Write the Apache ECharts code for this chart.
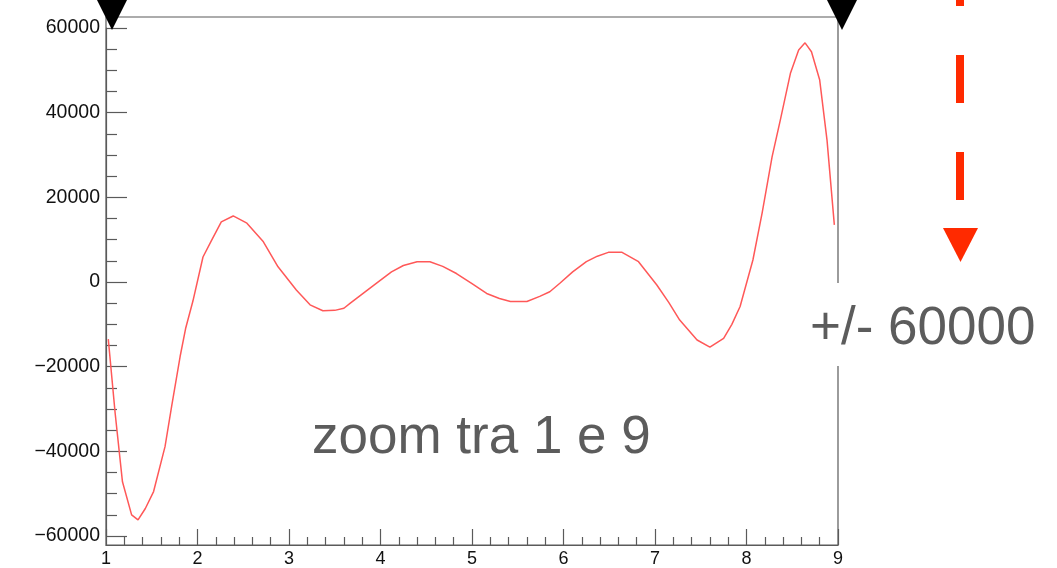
<!DOCTYPE html>
<html>
<head>
<meta charset="utf-8">
<script src="https://cdn.jsdelivr.net/npm/echarts@6/dist/echarts.min.js"></script>
<style>
	html, body { margin: 0; padding: 0; background: #fff; }
	#chart { width: 1057px; height: 568px; }
</style>
</head>
<body>
<div id="chart"></div>
<script>
// curve samples
const xVals = [1.025, 1.10, 1.18, 1.28, 1.35, 1.43, 1.52, 1.645, 1.72, 1.81, 1.87, 1.95, 2.06, 2.155, 2.26, 2.39, 2.54, 2.72, 2.88, 3.08, 3.23, 3.37, 3.50, 3.60, 3.67, 3.81, 3.95, 4.12, 4.25, 4.40, 4.54, 4.68, 4.83, 5.00, 5.16, 5.30, 5.42, 5.60, 5.74, 5.85, 5.96, 6.10, 6.25, 6.37, 6.49, 6.64, 6.82, 7.02, 7.15, 7.27, 7.46, 7.60, 7.75, 7.84, 7.93, 8.07, 8.17, 8.28, 8.37, 8.48, 8.57, 8.64, 8.71, 8.80, 8.88, 8.96];
const yVals = [-13500, -31000, -47200, -55000, -56200, -53500, -49500, -38900, -29000, -17600, -11000, -4500, 5900, 9900, 14200, 15600, 13900, 9500, 3600, -1900, -5400, -6800, -6700, -6200, -5000, -2700, -400, 2400, 3900, 4800, 4800, 3700, 2000, -400, -2700, -3900, -4600, -4600, -3400, -2300, -300, 2400, 4800, 6100, 7000, 7000, 4800, -700, -4800, -9000, -13700, -15400, -13300, -10000, -5800, 5200, 16200, 29600, 38300, 49300, 54800, 56500, 54400, 47700, 33500, 13500];

// axis ranges and tick labels
const xRange = [1, 9];
const yRange = [-60000, 60000];
const yStep = 20000;
const zoomLimits = [1, 9];

// annotation texts
const zoomText = 'zoom tra 1 e 9';
const rangeText = '+/- 60000';

const fontName = '"Liberation Sans", Arial, Helvetica, sans-serif';
const axisGrey = '#5a5a5a';
const noteGrey = '#5c5c5c';
const arrowRed = '#ff2a00';

var myChart = echarts.init(document.getElementById('chart'));

const curve = xVals.map((x, i) => [x, yVals[i]]);

var option = {
	animation: false,
	grid: [
		// data area (y labels from -60000 to 60000)
		{ left: 106, right: 219, top: 28, bottom: 32 },
		// frame (ROOT pad box)
		{ left: 106, right: 219, top: 17, bottom: 23, show: true, borderColor: axisGrey, borderWidth: 1.2, backgroundColor: 'transparent' }
	],
	xAxis: [
		{ gridIndex: 0, type: 'value', min: xRange[0], max: xRange[1], show: false },
		{
			gridIndex: 1, type: 'value', min: xRange[0], max: xRange[1], interval: 1,
			axisLine: { show: true, lineStyle: { color: axisGrey, width: 1.2 } },
			axisTick: { show: true, inside: true, length: 16, lineStyle: { color: axisGrey, width: 1.2 } },
			minorTick: { show: true, splitNumber: 5, length: 8, lineStyle: { color: axisGrey, width: 1.2 } },
			splitLine: { show: false },
			axisLabel: { color: '#111', fontSize: 18, fontFamily: fontName, margin: 5 }
		}
	],
	yAxis: [
		{
			gridIndex: 0, type: 'value', min: yRange[0], max: yRange[1], interval: yStep,
			axisLine: { show: true, lineStyle: { color: axisGrey, width: 1.2 } },
			axisTick: { show: true, inside: true, length: 21, lineStyle: { color: axisGrey, width: 1.2 } },
			minorTick: { show: true, splitNumber: 4, length: 11, lineStyle: { color: axisGrey, width: 1.2 } },
			splitLine: { show: false },
			axisLabel: {
				color: '#111', fontSize: 19.5, fontFamily: fontName, margin: 6,
				formatter: (v) => String(v).replace('-', '\u2212')
			}
		},
		{ gridIndex: 1, type: 'value', min: 0, max: 1, show: false }
	],
	series: [
		{
			type: 'line',
			xAxisIndex: 0,
			yAxisIndex: 0,
			data: curve,
			showSymbol: false,
			smooth: false,
			lineStyle: { color: '#ff5858', width: 1.5 },
			z: 5
		}
	]
};
myChart.setOption(option);

// annotations drawn on top of the chart
const markerPx = zoomLimits.map((v) => myChart.convertToPixel({ xAxisIndex: 1 }, v));
const markers = markerPx.map((px, i) => {
	const c = px + (i == 0 ? 6 : 4);
	return {
		type: 'polygon',
		shape: { points: [[c - 16, -2], [c + 16, -2], [c, 30]] },
		style: { fill: '#000' },
		z: 200
	};
});

myChart.setOption({
	graphic: [
		{
			type: 'rect',
			shape: { x: 795, y: 283, width: 262, height: 83 },
			style: { fill: '#fff' },
			z: 150
		},
		{
			type: 'text',
			x: 810, y: 329,
			style: { text: rangeText, fontSize: 53, fontFamily: fontName, fill: noteGrey, verticalAlign: 'middle' },
			z: 160
		},
		{
			type: 'text',
			x: 312, y: 438,
			style: { text: zoomText, fontSize: 53, fontFamily: fontName, fill: noteGrey, verticalAlign: 'middle' },
			z: 160
		},
		{
			type: 'line',
			shape: { x1: 960, y1: -42, x2: 960, y2: 200 },
			style: { stroke: arrowRed, lineWidth: 8, lineDash: [48, 49] },
			z: 160
		},
		{
			type: 'polygon',
			shape: { points: [[943, 228], [978, 228], [960.5, 262]] },
			style: { fill: arrowRed },
			z: 160
		}
	].concat(markers)
});
</script>
</body>
</html>
